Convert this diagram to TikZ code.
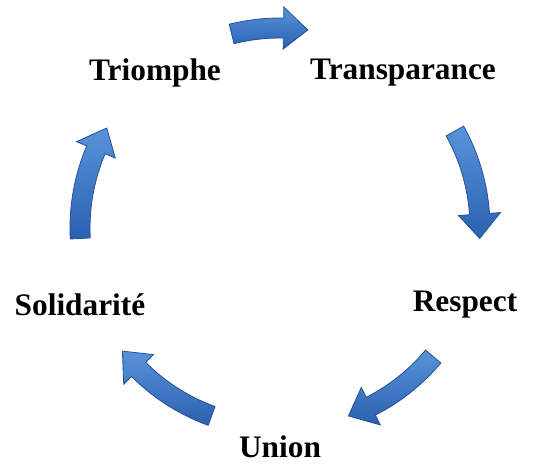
\documentclass[tikz,border=0pt]{standalone}
\usepackage{fontspec}
\setmainfont{Liberation Serif}

% curved block arrow on the cycle: #1 tail angle, #2 tip angle (clockwise)
\newcommand{\cyclearc}[2]{%
  \pgfmathsetmacro{\headbase}{#2+7}
  \path[cyclearrow] plot[domain=#1:\headbase, samples=18] (\x:210) -- (\headbase:221) -- (#2:200)
    -- (\headbase:179) -- plot[domain=\headbase:#1, samples=18] (\x:190) -- cycle ;
}

\begin{document}
\begin{tikzpicture}[x=0.75pt,y=0.75pt,yscale=-1,xscale=1,
  word/.style={font=\fontsize{23.5}{28}\selectfont\bfseries, inner sep=0.75pt},
  cyclearrow/.style={draw={rgb, 255:red, 35; green, 80; blue, 150}, line width=0.6,
    top color={rgb, 255:red, 88; green, 148; blue, 218}, bottom color={rgb, 255:red, 42; green, 96; blue, 176}}]
\useasboundingbox (0,0) rectangle (534,464);

% Arrows
\begin{scope}[shift={(280,228)}, yscale=-1]
\cyclearc{104}{82}
\cyclearc{29}{-3}
\cyclearc{-40}{-70}
\cyclearc{-110}{-142}
\cyclearc{183}{150}
\end{scope}

% Text Node
\draw (155,73) node [word] (triomphe) {Triomphe};
% Text Node
\draw (403,73) node [word] (transparance) {Transparance};
% Text Node
\draw (465,305) node [word] (respect) {Respect};
% Text Node
\draw (280,447) node [word] (union) {Union};
% Text Node
\draw (80,305) node [word] (solidarite) {Solidarité};

\end{tikzpicture}
\end{document}
